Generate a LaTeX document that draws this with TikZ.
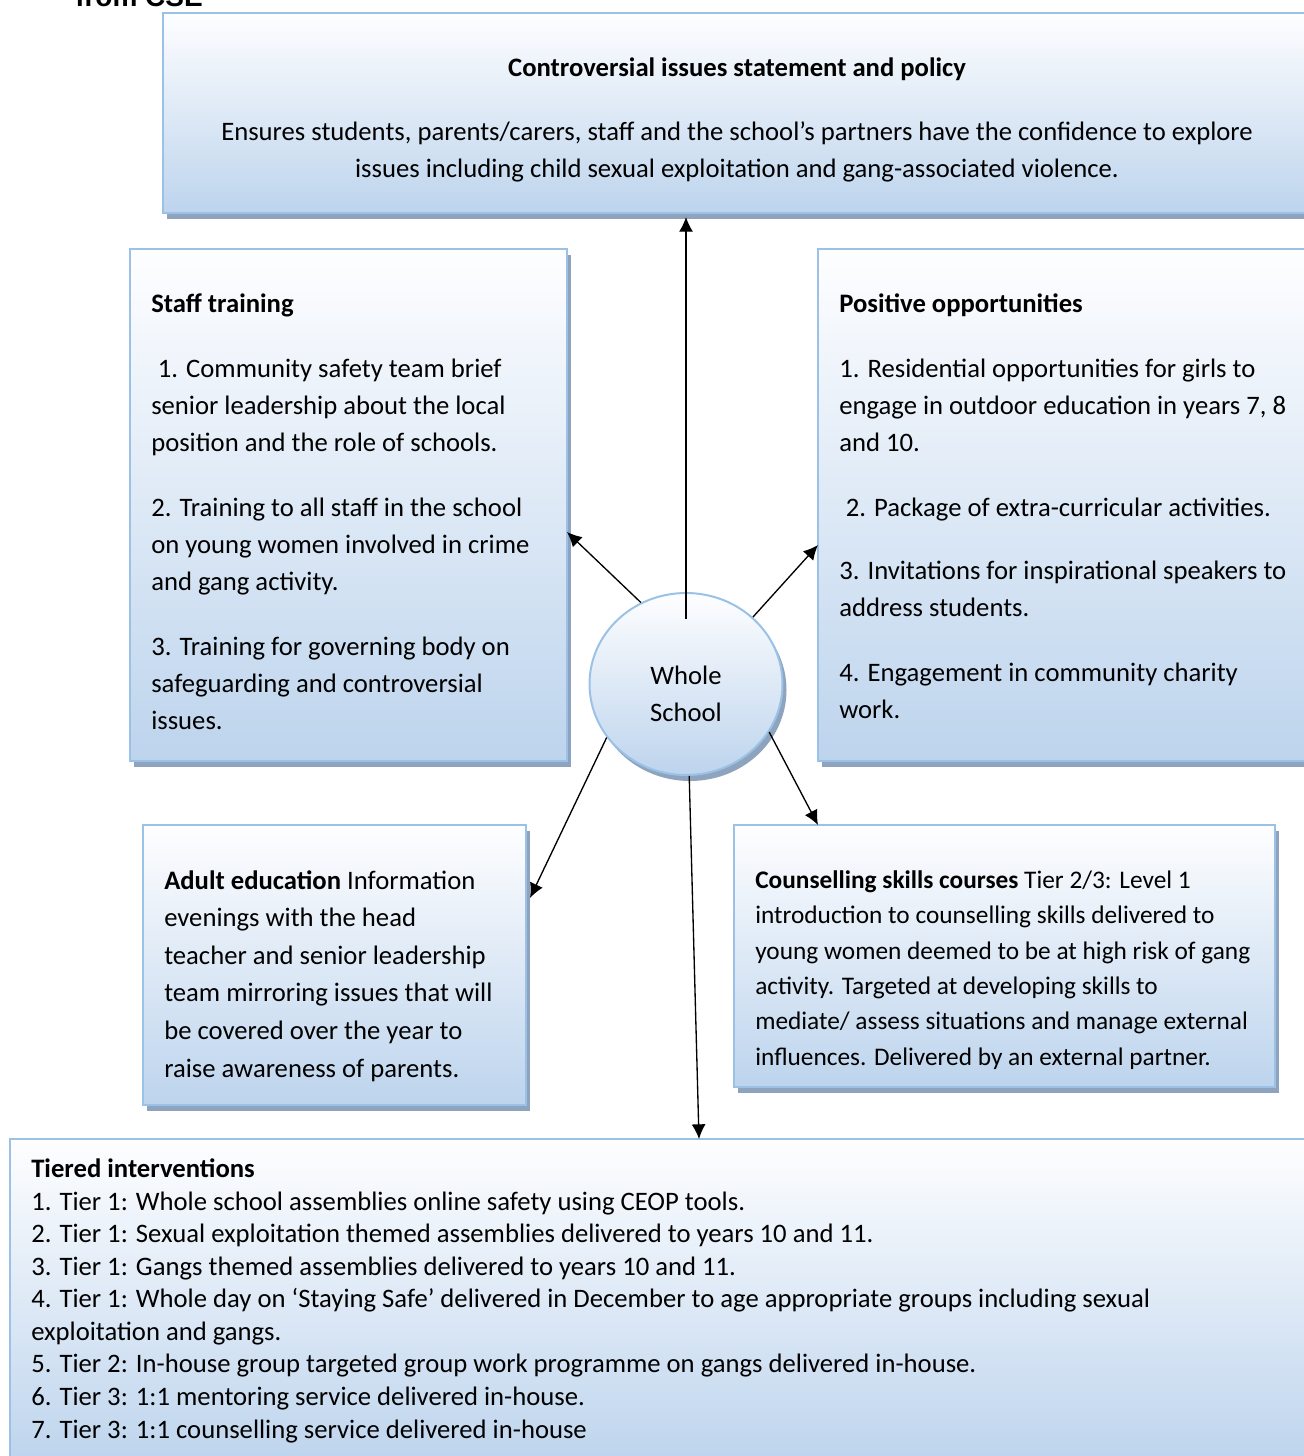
\documentclass[tikz,border=0pt]{standalone}
\usepackage{fontspec}
\setmainfont{Carlito}
\newfontfamily\headfont{Liberation Sans}
\usepackage{tikz}
\usetikzlibrary{shapes.geometric}
\usetikzlibrary{shadows,calc}
\usetikzlibrary{arrows.meta}
\definecolor{boxline}{RGB}{155,194,230}
\definecolor{boxtop}{RGB}{254,254,255}
\definecolor{boxbot}{RGB}{189,212,237}
\definecolor{boxshade}{RGB}{142,164,190}
\tikzstyle{box}=[draw=boxline, line width=1.5pt, top color=boxtop, bottom color=boxbot, inner sep=0pt, drop shadow={shadow xshift=3pt, shadow yshift=-4.5pt, fill=boxshade, opacity=1}]
% multi-line texts are placed by the baseline of their last line
\tikzstyle{txt}=[anchor=base west, inner sep=0pt, align=left, font=\fontsize{20}{27.75}\selectfont]
\tikzstyle{arr}=[-{Latex[length=11pt,width=10.5pt]}, line width=1pt]

\begin{document}
\begin{tikzpicture}[x=0.75pt,y=-0.75pt]
\useasboundingbox (0,0) rectangle (1303,1456);
\node[anchor=base west, inner sep=0pt, font=\headfont\bfseries\fontsize{21}{25}\selectfont] (title) at (75,7) {from CSE};
% boxes
\node[box, minimum width=861pt, minimum height=150pt] (policy) at (737,113) {};
\node[box, minimum width=327.75pt, minimum height=384pt] (staff) at (348.5,505) {};
\node[box, minimum width=376.5pt, minimum height=384pt] (positive) at (1069,505) {};
\node[box, minimum width=287.25pt, minimum height=210pt] (adult) at (334.5,965) {};
\node[box, minimum width=405.75pt, minimum height=196.5pt] (counsel) at (1004.5,956) {};
\node[box, minimum width=982.5pt, minimum height=244.5pt] (tiered) at (665,1302) {};
\node[box, ellipse, minimum width=144.75pt, minimum height=136.5pt] (school) at (686,684) {};
% texts
\node[txt, anchor=base, align=center] (policyT) at (737,177) {\textbf{Controversial issues statement and policy}\\[20.25pt]
Ensures students, parents/carers, staff and the school’s partners have the confidence to explore\\
issues including child sexual exploitation and gang-associated violence.};
\node[txt] (staffT) at (151,729) {\textbf{Staff training}\\[21pt]
\hspace*{5pt}1. Community safety team brief\\
senior leadership about the local\\
position and the role of schools.\\[21pt]
2. Training to all staff in the school\\
on young women involved in crime\\
and gang activity.\\[21pt]
3. Training for governing body on\\
safeguarding and controversial\\
issues.};
\node[txt] (positiveT) at (839,718) {\textbf{Positive opportunities}\\[21pt]
1. Residential opportunities for girls to\\
engage in outdoor education in years 7, 8\\
and 10.\\[21pt]
\hspace*{5pt}2. Package of extra-curricular activities.\\[19.5pt]
3. Invitations for inspirational speakers to\\
address students.\\[21pt]
4. Engagement in community charity\\
work.};
\node[txt, font=\fontsize{20}{28.2}\selectfont] (adultT) at (164,1077) {\textbf{Adult education} Information\\
evenings with the head\\
teacher and senior leadership\\
team mirroring issues that will\\
be covered over the year to\\
raise awareness of parents.};
\node[txt, font=\fontsize{19}{26.5}\selectfont] (counselT) at (755,1065) {\textbf{Counselling skills courses} Tier 2/3: Level 1\\
introduction to counselling skills delivered to\\
young women deemed to be at high risk of gang\\
activity. Targeted at developing skills to\\
mediate/ assess situations and manage external\\
influences. Delivered by an external partner.};
\node[txt, font=\fontsize{20}{24.4}\selectfont] (tieredT) at (31,1438) {\textbf{Tiered interventions}\\
1. Tier 1: Whole school assemblies online safety using CEOP tools.\\
2. Tier 1: Sexual exploitation themed assemblies delivered to years 10 and 11.\\
3. Tier 1: Gangs themed assemblies delivered to years 10 and 11.\\
4. Tier 1: Whole day on ‘Staying Safe’ delivered in December to age appropriate groups including sexual\\
exploitation and gangs.\\
5. Tier 2: In-house group targeted group work programme on gangs delivered in-house.\\
6. Tier 3: 1:1 mentoring service delivered in-house.\\
7. Tier 3: 1:1 counselling service delivered in-house};
\node[txt, anchor=base, align=center] (schoolT) at (686,721) {Whole\\School};
% arrows
\coordinate (policyIn) at (686,217);
\coordinate (staffIn) at (567,532);
\coordinate (positiveIn) at (818,545);
\coordinate (adultIn) at (530,898);
\coordinate (counselIn) at (818,825);
\coordinate (tieredIn) at (699,1139);
\draw[arr] ($(school.north)+(0,27)$) -- (policyIn);
\draw[arr] (school.119) -- (staffIn);
\draw[arr] (school.45) -- (positiveIn);
\draw[arr] (school.214) -- (adultIn);
\draw[arr] (school.-30) -- (counselIn);
\draw[arr] (school.-88) -- (tieredIn);
\end{tikzpicture}
\end{document}
